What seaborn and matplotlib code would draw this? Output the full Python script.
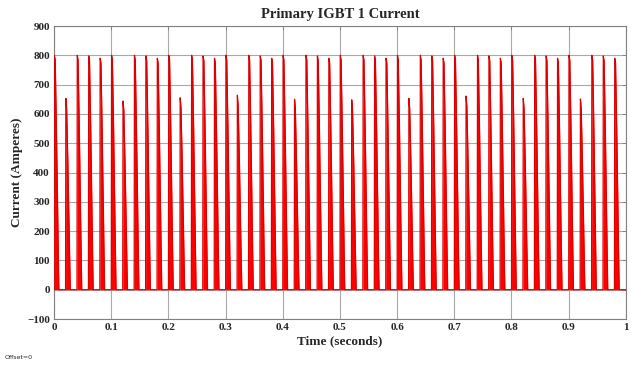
import numpy as np
import pandas as pd
import matplotlib
matplotlib.use("Agg")
import matplotlib.pyplot as plt
import seaborn as sns

# Conduction pulses of the primary IGBT: start time (s) and peak current (A)
pulse_start = [0.00, 0.02, 0.04, 0.06, 0.08, 0.10, 0.12, 0.14, 0.16, 0.18,
               0.20, 0.22, 0.24, 0.26, 0.28, 0.30, 0.32, 0.34, 0.36, 0.38,
               0.40, 0.42, 0.44, 0.46, 0.48, 0.50, 0.52, 0.54, 0.56, 0.58,
               0.60, 0.62, 0.64, 0.66, 0.68, 0.70, 0.72, 0.74, 0.76, 0.78,
               0.80, 0.82, 0.84, 0.86, 0.88, 0.90, 0.92, 0.94, 0.96, 0.98]
pulse_peak = [800, 653, 800, 798, 790, 800, 644, 800, 798, 790,
              800, 655, 800, 798, 790, 800, 664, 800, 798, 790,
              800, 650, 800, 798, 790, 800, 648, 800, 798, 790,
              800, 653, 800, 798, 790, 800, 661, 800, 798, 790,
              800, 653, 800, 798, 790, 800, 651, 800, 798, 790]
# Level the current settles to just after the peak (A)
pulse_shoulder = [784, 618, 784, 782, 774, 784, 612, 784, 782, 774,
                  784, 620, 784, 782, 774, 784, 628, 784, 782, 774,
                  784, 616, 784, 782, 774, 784, 614, 784, 782, 774,
                  784, 618, 784, 782, 774, 784, 625, 784, 782, 774,
                  784, 618, 784, 782, 774, 784, 616, 784, 782, 774]

x_ticks = [0, 0.1, 0.2, 0.3, 0.4, 0.5, 0.6, 0.7, 0.8, 0.9, 1]
x_tick_labels = ["0", "0.1", "0.2", "0.3", "0.4", "0.5", "0.6", "0.7", "0.8", "0.9", "1"]
y_ticks = [-100, 0, 100, 200, 300, 400, 500, 600, 700, 800, 900]

# Build the switching waveform from the pulse table: a steep rise to the
# peak, a short droop to the shoulder, then a rounded turn-off tail.
t_pts, i_pts = [0.0], [0.0]
for t0, pk, sh in zip(pulse_start, pulse_peak, pulse_shoulder):
    t_pts += [t0 + 0.0001, t0 + 0.0006, t0 + 0.0020,
              t0 + 0.0040, t0 + 0.0062, t0 + 0.0078, t0 + 0.0084]
    i_pts += [0.0, pk, sh,
              sh * 0.72, sh * 0.35, sh * 0.08, 0.0]
t_pts.append(1.0)
i_pts.append(0.0)
wave = pd.DataFrame({"time": t_pts, "current": i_pts})

sns.set_theme(style="white")
serif = ["Liberation Serif", "DejaVu Serif"]

fig = plt.figure(figsize=(6.36, 3.69), dpi=100)
ax = fig.add_axes([0.085, 0.1355, 0.899, 0.794])

ax.fill_between(wave["time"], 0, wave["current"], color="#ff0000", lw=0, zorder=3)
sns.lineplot(data=wave, x="time", y="current", ax=ax, estimator=None, sort=False,
             color="#dc0000", lw=0.9, zorder=4)

ax.set_xlim(0, 1)
ax.set_ylim(-100, 900)
ax.set_xticks(x_ticks)
ax.set_xticklabels(x_tick_labels)
ax.set_yticks(y_ticks)
ax.grid(True, color="#a8a8a8", lw=0.8)
ax.set_axisbelow(True)
for sp in ax.spines.values():
    sp.set_color("#808080")
    sp.set_linewidth(0.8)
ax.tick_params(direction="in", length=3, width=0.6, color="#808080",
               top=True, right=True, labelsize=8, pad=3)
for lab in ax.get_xticklabels() + ax.get_yticklabels():
    lab.set_family(serif)
    lab.set_fontweight("bold")

ax.set_title("Primary IGBT 1 Current", family=serif, fontweight="bold",
             fontsize=10.5, pad=6)
ax.set_xlabel("Time (seconds)", family=serif, fontweight="bold", fontsize=9.5, labelpad=2)
ax.set_ylabel("Current (Amperes)", family=serif, fontweight="bold", fontsize=9.5)
ax.yaxis.set_label_coords(-0.055, 0.5)

fig.text(0.008, 0.032, "Offset=0", fontsize=4.5, family="DejaVu Sans", ha="left", va="center")

fig.savefig("out.png", dpi=100)
